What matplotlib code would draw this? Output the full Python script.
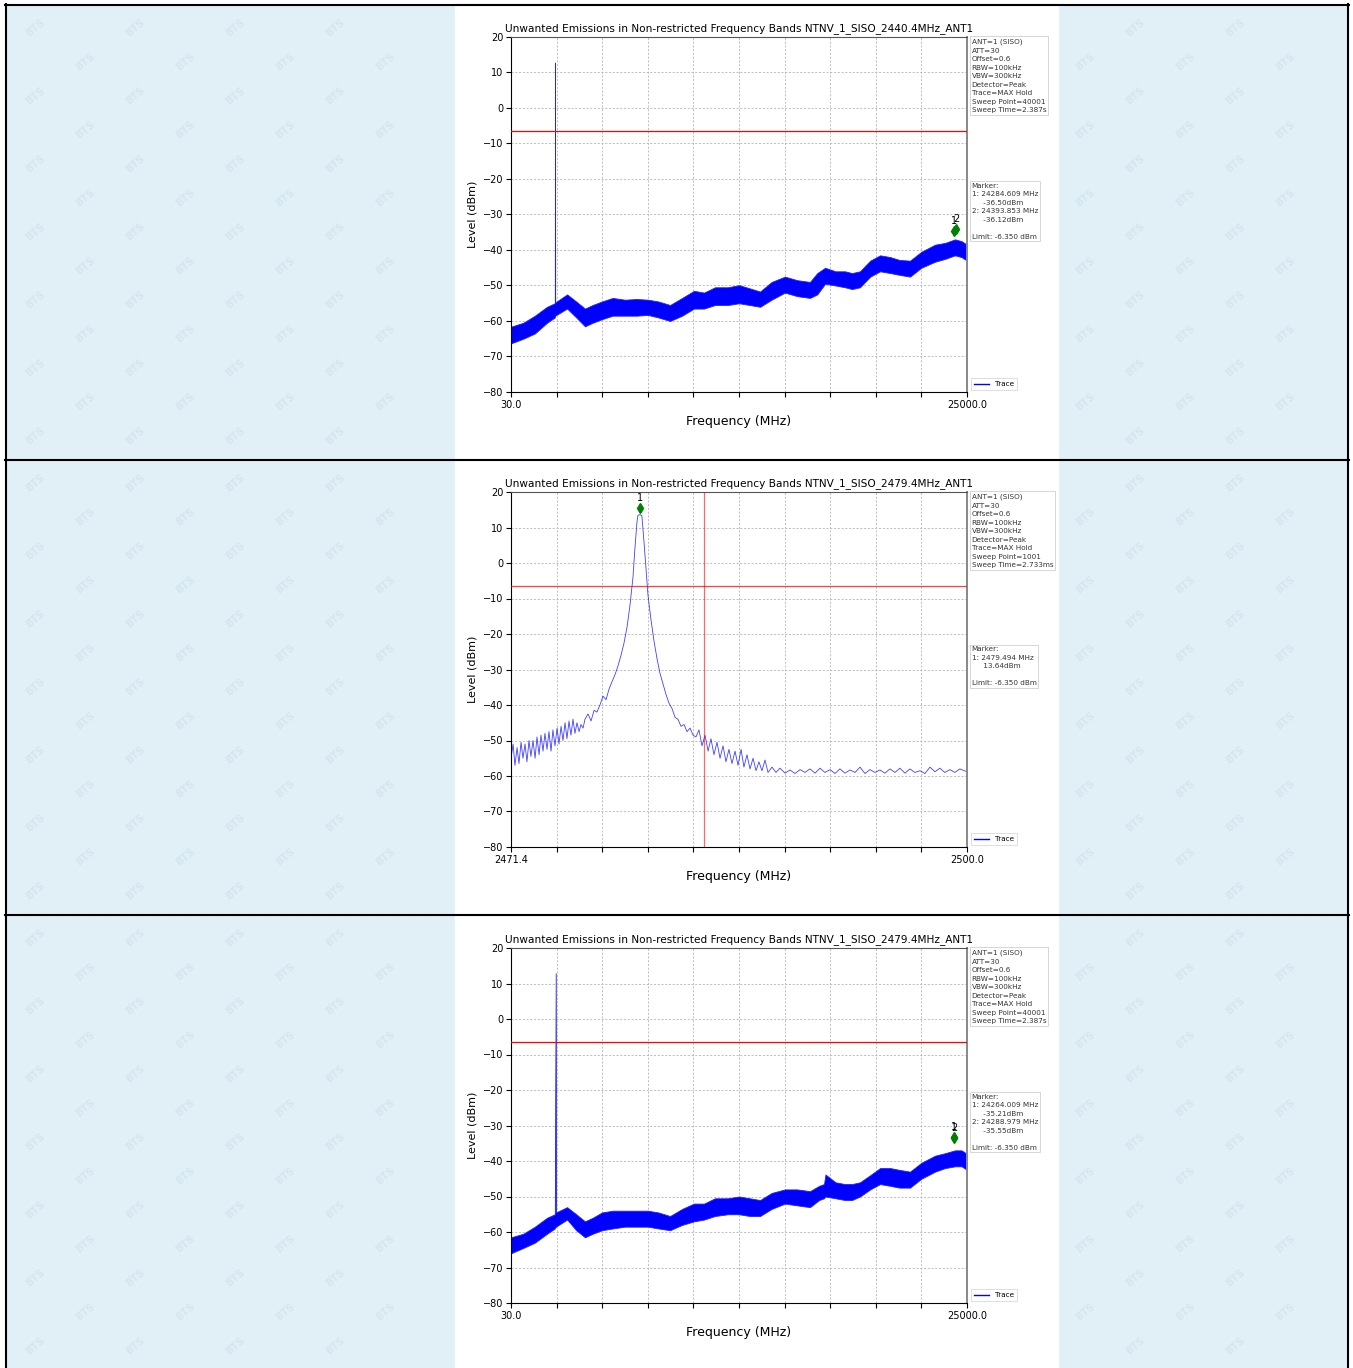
import matplotlib.pyplot as plt
import matplotlib.transforms as mtransforms
from matplotlib.patches import Rectangle
from matplotlib.lines import Line2D

W, H = 1353, 1368

# ---------------- scan 1: 30 MHz - 25 GHz, channel 2440.4 MHz ----------------
scan1_freq = [30, 700, 1340, 2000, 2430, 2440.4, 2450, 3100, 3600, 4080, 4500,
              5010, 5600, 6270, 6900, 7530, 8100, 8740, 9400, 10050, 10600,
              11200, 11900, 12520, 13100, 13670, 14300, 15030, 15700, 16400,
              16800, 17230, 17800, 18320, 18700, 19140, 19700, 20240, 20800,
              21300, 21880, 22500, 23250, 23800, 24340, 24700, 25000]
scan1_low = [-66.3, -65.0, -63.5, -60.5, -59.0, -58.5, -58.5, -56.5, -59.0,
             -61.5, -60.5, -59.5, -58.5, -58.5, -58.5, -58.3, -59.0, -60.0,
             -58.5, -56.5, -56.5, -55.5, -55.5, -55.0, -55.5, -56.0, -54.0,
             -52.0, -53.0, -53.5, -52.5, -49.5, -50.0, -50.5, -51.0, -50.5,
             -47.5, -46.0, -46.5, -47.0, -47.5, -45.0, -43.3, -42.5, -41.5,
             -42.0, -43.0]
scan1_high = [-61.6, -60.5, -58.5, -56.0, -55.0, 12.8, -54.8, -52.5, -54.5,
              -56.5, -55.5, -54.5, -53.5, -54.0, -53.8, -54.0, -54.5, -55.5,
              -53.5, -51.5, -52.0, -50.5, -50.5, -49.9, -50.8, -51.7, -49.0,
              -47.5, -48.5, -49.0, -46.5, -45.0, -46.0, -46.0, -46.5, -46.0,
              -43.0, -41.5, -42.0, -42.8, -43.0, -40.5, -38.5, -38.0, -37.0,
              -37.5, -38.5]
scan1_markers_freq = [24284.609, 24393.853]
scan1_markers_level = [-36.50, -36.12]

# ---------------- scan 2: band edge 2471.4 - 2500 MHz, channel 2479.4 MHz ----------------
edge_freq = [2471.40, 2471.53, 2471.65, 2471.78, 2471.90, 2472.03, 2472.15, 2472.28,
             2472.40, 2472.53, 2472.65, 2472.78, 2472.91, 2473.03, 2473.16, 2473.28,
             2473.41, 2473.53, 2473.66, 2473.78, 2473.91, 2474.03, 2474.16, 2474.29,
             2474.41, 2474.54, 2474.66, 2474.79, 2474.91, 2475.04, 2475.16, 2475.29,
             2475.41, 2475.54, 2475.67, 2475.79, 2475.92, 2476.04, 2476.23, 2476.42,
             2476.61, 2476.79, 2476.98, 2477.17, 2477.36, 2477.55, 2477.73, 2477.92,
             2478.11, 2478.30, 2478.49, 2478.68, 2478.86, 2479.05, 2479.17, 2479.30,
             2479.36, 2479.494, 2479.61, 2479.74, 2479.87, 2479.99, 2480.18, 2480.37,
             2480.56, 2480.74, 2480.93, 2481.12, 2481.31, 2481.50, 2481.69, 2481.87,
             2482.06, 2482.25, 2482.44, 2482.63, 2482.82, 2483.00, 2483.19, 2483.38,
             2483.57, 2483.76, 2483.94, 2484.13, 2484.32, 2484.51, 2484.70, 2484.88,
             2485.07, 2485.26, 2485.45, 2485.64, 2485.83, 2486.01, 2486.20, 2486.39,
             2486.58, 2486.77, 2486.95, 2487.14, 2487.33, 2487.52, 2487.77, 2488.02,
             2488.27, 2488.59, 2488.90, 2489.21, 2489.53, 2489.84, 2490.15, 2490.47,
             2490.78, 2491.09, 2491.41, 2491.72, 2492.03, 2492.35, 2492.66, 2492.98,
             2493.29, 2493.60, 2493.92, 2494.23, 2494.54, 2494.85, 2495.17, 2495.48,
             2495.79, 2496.11, 2496.42, 2496.73, 2497.05, 2497.36, 2497.68, 2497.99,
             2498.30, 2498.61, 2498.93, 2499.24, 2499.55, 2500.00]
edge_level = [-55.0, -51.0, -57.0, -52.0, -56.5, -50.5, -55.0, -51.0,
              -56.0, -50.0, -54.5, -50.0, -55.0, -49.0, -54.0, -48.5,
              -53.0, -48.0, -52.5, -47.5, -53.0, -47.0, -51.5, -46.5,
              -51.0, -46.0, -50.0, -45.0, -49.5, -44.5, -48.5, -44.0,
              -48.0, -45.0, -47.5, -45.5, -46.5, -44.0, -42.5, -44.5,
              -41.5, -42.0, -40.0, -37.5, -38.5, -35.5, -33.5, -31.5,
              -29.0, -26.0, -22.5, -18.0, -12.0, -4.0, 4.0, 11.5,
              13.4, 13.64, 13.3, 6.0, -2.0, -9.0, -16.0, -22.0,
              -27.0, -31.0, -34.0, -37.0, -39.5, -41.0, -43.5, -44.0,
              -46.0, -45.5, -47.5, -46.5, -48.5, -49.0, -47.0, -51.5,
              -48.5, -53.0, -49.5, -54.0, -50.5, -55.0, -51.5, -56.0,
              -52.5, -56.5, -53.0, -57.0, -52.5, -57.5, -54.0, -58.0,
              -55.0, -58.5, -56.0, -58.5, -55.5, -59.0, -57.5, -59.0,
              -57.8, -59.2, -58.3, -59.3, -58.2, -59.0, -58.0, -59.2,
              -57.8, -59.0, -58.2, -59.3, -58.0, -59.2, -58.3, -59.0,
              -57.5, -59.3, -58.2, -59.0, -58.3, -59.2, -58.0, -59.0,
              -57.8, -59.2, -58.0, -59.0, -58.5, -59.3, -57.5, -58.8,
              -57.8, -59.0, -58.2, -59.0, -58.0, -58.8]
edge_markers_freq = [2479.494]
edge_markers_level = [13.64]
band_edge = 2483.5

# ---------------- scan 3: 30 MHz - 25 GHz, channel 2479.4 MHz ----------------
scan3_freq = [30, 700, 1340, 2000, 2430, 2479.4, 2490, 3100, 3600, 4080, 4500,
              5010, 5600, 6270, 6900, 7530, 8100, 8740, 9400, 10050, 10600,
              11200, 11900, 12520, 13100, 13670, 14300, 15030, 15700, 16400,
              16900, 17170, 17250, 17800, 18320, 18700, 19140, 19700, 20240,
              20800, 21300, 21880, 22500, 23250, 23800, 24340, 24700, 25000]
scan3_low = [-66.0, -64.5, -63.0, -60.5, -59.0, -58.5, -58.5, -56.5, -59.5,
             -61.5, -60.5, -59.5, -59.0, -58.5, -58.5, -58.5, -59.0, -59.5,
             -58.0, -57.0, -56.5, -55.5, -55.0, -55.0, -55.5, -55.5, -53.5,
             -52.0, -52.5, -53.0, -51.0, -50.5, -50.0, -50.5, -51.0, -51.0,
             -50.0, -48.0, -46.5, -47.0, -47.5, -47.5, -45.0, -43.0, -42.0,
             -41.5, -41.5, -42.5]
scan3_high = [-61.5, -60.5, -58.5, -56.0, -55.0, 12.9, -54.5, -53.0, -55.0,
              -57.0, -56.0, -54.5, -54.0, -54.0, -54.0, -54.0, -54.5, -55.5,
              -53.5, -52.0, -52.0, -50.5, -50.5, -50.0, -50.5, -51.0, -49.0,
              -48.0, -48.0, -48.5, -47.0, -46.5, -43.8, -46.0, -46.5, -46.5,
              -46.0, -44.0, -42.0, -42.0, -42.5, -43.0, -40.5, -38.5, -37.8,
              -37.0, -37.0, -38.0]
scan3_markers_freq = [24264.009, 24288.979]
scan3_markers_level = [-35.21, -35.55]

limit_dbm = -6.35
y_ticks = [20, 10, 0, -10, -20, -30, -40, -50, -60, -70, -80]

titles = ["Unwanted Emissions in Non-restricted Frequency Bands NTNV_1_SISO_2440.4MHz_ANT1",
          "Unwanted Emissions in Non-restricted Frequency Bands NTNV_1_SISO_2479.4MHz_ANT1",
          "Unwanted Emissions in Non-restricted Frequency Bands NTNV_1_SISO_2479.4MHz_ANT1"]

settings_wide = ("ANT=1 (SISO)\nATT=30\nOffset=0.6\nRBW=100kHz\nVBW=300kHz\n"
                 "Detector=Peak\nTrace=MAX Hold\nSweep Point=40001\nSweep Time=2.387s")
settings_edge = ("ANT=1 (SISO)\nATT=30\nOffset=0.6\nRBW=100kHz\nVBW=300kHz\n"
                 "Detector=Peak\nTrace=MAX Hold\nSweep Point=1001\nSweep Time=2.733ms")


def marker_text(freqs, levels):
    lines = ["Marker:"]
    for i, (f, l) in enumerate(zip(freqs, levels), start=1):
        lines.append(f"{i}: {f:.3f} MHz")
        lines.append(f"     {l:.2f}dBm")
    lines.append("")
    lines.append(f"Limit: {limit_dbm:.3f} dBm")
    return "\n".join(lines)


fig = plt.figure(figsize=(W / 100, H / 100), dpi=100)

# page background drawn in pixel coordinates
bg = fig.add_axes([0, 0, 1, 1])
bg.set_xlim(0, W)
bg.set_ylim(H, 0)
bg.axis("off")
bg.add_patch(Rectangle((6, 6), 1342, H, color="#e1eff7", zorder=0))

rows = [(6, 460), (461, 915), (916, H)]

# faint repeated watermark on the blue part of each cell
for top, bot in rows:
    j = 0
    y = top + 22
    while y < bot - 18:
        x = 35 + 50 * (j % 2)
        while x < 1330:
            if x < 430 or x > 1080:
                bg.text(x, y, "BTS", rotation=40, fontsize=7, fontweight="bold",
                        color="#d4e6ef", ha="center", va="center", zorder=1)
            x += 100
        y += 34
        j += 1

for top, bot in rows:
    bg.add_patch(Rectangle((455, top), 603, bot - top, color="white", zorder=2))

for y in (5, 460, 915):
    bg.plot([5, 1349], [y, y], color="black", lw=1.5, zorder=3)
for x in (6, 1348):
    bg.plot([x, x], [4, H], color="black", lw=1.5, zorder=3)


def add_panel(top_px):
    left, right = 511, 967
    return fig.add_axes([left / W, 1 - (top_px + 355) / H, (right - left) / W, 355 / H])


def style_axes(ax, xmin, xmax, title):
    ax.set_xlim(xmin, xmax)
    ax.set_ylim(-80, 20)
    step = (xmax - xmin) / 10
    ax.set_xticks([xmin + k * step for k in range(11)])
    ax.set_xticklabels([f"{xmin:.1f}"] + [""] * 9 + [f"{xmax:.1f}"])
    ax.set_yticks(y_ticks)
    ax.tick_params(direction="out", length=3.5, width=0.8, labelsize=7, pad=2)
    ax.grid(True, color="#b5b5b5", linestyle=(0, (2.5, 2)), lw=0.6)
    ax.set_axisbelow(True)
    ax.spines["left"].set_color("black")
    ax.spines["bottom"].set_color("black")
    ax.spines["top"].set_color("#555555")
    ax.spines["right"].set_color("#888888")
    ax.spines["right"].set_linewidth(1.4)
    ax.set_title(title, fontsize=7.6, pad=4)
    ax.set_xlabel("Frequency (MHz)", fontsize=9, labelpad=4)
    ax.set_ylabel("Level (dBm)", fontsize=8, labelpad=4)


def add_side_boxes(ax, settings, markers, marker_top):
    box = dict(boxstyle="square,pad=0.25", fc="white", ec="#d0d0d0", lw=0.6)
    ax.text(1.01, 0.995, settings, transform=ax.transAxes, fontsize=5.2,
            va="top", ha="left", color="#333333", linespacing=1.5, bbox=box)
    ax.text(1.01, marker_top, markers, transform=ax.transAxes, fontsize=5.2,
            va="top", ha="left", color="#333333", linespacing=1.5, bbox=box)
    handle = Line2D([], [], color="blue", lw=1)
    leg = ax.legend([handle], ["Trace"], loc="lower left", bbox_to_anchor=(1.0, -0.005),
                    fontsize=5.2, frameon=True, handlelength=2.2, borderpad=0.4,
                    fancybox=False)
    leg.get_frame().set_edgecolor("#d0d0d0")
    leg.get_frame().set_linewidth(0.6)


def add_markers(ax, freqs, levels):
    lift = mtransforms.offset_copy(ax.transData, fig=fig, x=0, y=7, units="dots")
    lift_txt = mtransforms.offset_copy(ax.transData, fig=fig, x=0, y=12, units="dots")
    for i, (f, l) in enumerate(zip(freqs, levels), start=1):
        ax.plot(f, l, marker="d", color="green", markersize=5, transform=lift, zorder=5)
        ax.text(f, l, str(i), transform=lift_txt, fontsize=7, ha="center",
                va="bottom", zorder=5)


# panel 1: wide scan, 2440.4 MHz
ax1 = add_panel(37)
style_axes(ax1, 30.0, 25000.0, titles[0])
ax1.fill_between(scan1_freq, scan1_low, scan1_high, facecolor="blue",
                 edgecolor="#2020ff", lw=0.6, zorder=2)
ax1.axhline(limit_dbm, color="red", lw=0.9, zorder=3)
add_markers(ax1, scan1_markers_freq, scan1_markers_level)
add_side_boxes(ax1, settings_wide, marker_text(scan1_markers_freq, scan1_markers_level), 0.59)

# panel 2: band edge, 2479.4 MHz
ax2 = add_panel(492)
style_axes(ax2, 2471.4, 2500.0, titles[1])
ax2.plot(edge_freq, edge_level, color="blue", lw=0.6, alpha=0.75, zorder=2)
ax2.axhline(limit_dbm, color="red", lw=0.9, alpha=0.75, zorder=3)
ax2.axvline(band_edge, color="red", lw=0.9, alpha=0.6, zorder=3)
add_markers(ax2, edge_markers_freq, edge_markers_level)
add_side_boxes(ax2, settings_edge, marker_text(edge_markers_freq, edge_markers_level), 0.565)

# panel 3: wide scan, 2479.4 MHz
ax3 = add_panel(948)
style_axes(ax3, 30.0, 25000.0, titles[2])
ax3.fill_between(scan3_freq, scan3_low, scan3_high, facecolor="blue",
                 edgecolor="#2020ff", lw=0.6, zorder=2)
ax3.axhline(limit_dbm, color="red", lw=0.9, zorder=3)
add_markers(ax3, scan3_markers_freq, scan3_markers_level)
add_side_boxes(ax3, settings_wide, marker_text(scan3_markers_freq, scan3_markers_level), 0.59)

fig.savefig("out.png", dpi=100)
